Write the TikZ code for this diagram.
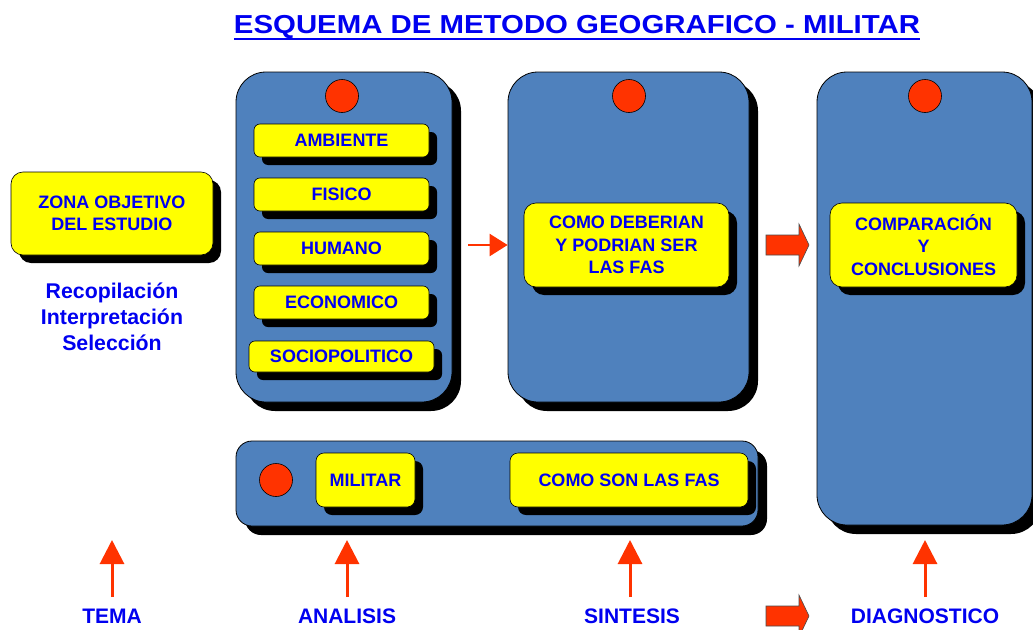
\documentclass[tikz,border=0pt]{standalone}
\usepackage{fontspec}
\setmainfont{Liberation Sans}
\usetikzlibrary{shadows,arrows.meta,calc}
\definecolor{boxblue}{RGB}{79,129,189}
\definecolor{txtblue}{RGB}{0,0,240}
\definecolor{dotred}{RGB}{255,51,0}
\definecolor{hiyel}{RGB}{255,255,0}
\begin{document}
\begin{tikzpicture}[x=1pt,y=-1pt,
  panel/.style={draw=black, line width=0.8pt, fill=boxblue, rounded corners=30pt, inner sep=0pt,
     drop shadow={shadow xshift=9pt, shadow yshift=-9pt, opacity=1, fill=black}},
  ybox/.style={draw=black, line width=0.6pt, fill=hiyel, rounded corners=6pt, inner sep=0pt,
     text=txtblue, align=center, font=\bfseries\fontsize{18}{22.5}\selectfont,
     drop shadow={shadow xshift=8pt, shadow yshift=-8pt, opacity=1, fill=black}},
  dot/.style={circle, draw=black, line width=0.6pt, fill=dotred, minimum size=33pt, inner sep=0pt},
  lbl/.style={text=txtblue, font=\bfseries\fontsize{21}{25}\selectfont, inner sep=2pt},
  uparrow/.style={draw=dotred, line width=3pt, -{Triangle[width=24pt,length=24pt]}},
  thinarrow/.style={draw=dotred, line width=2.5pt, -{Triangle[width=22pt,length=18pt]}},
  blockarrow/.style={draw=black!70, line width=0.6pt, fill=dotred}
]
\useasboundingbox[fill=white] (0,0) rectangle (1033,629);

% title
\node[text=txtblue, font=\bfseries\fontsize{26}{30}\selectfont, inner sep=0pt] (title) at (577,27)
  {\scalebox{1.13}[1]{ESQUEMA DE METODO GEOGRAFICO - MILITAR}};
\draw[txtblue, line width=2pt] ([yshift=-5pt]title.base west) -- ([yshift=-5pt]title.base east);

% panels
\node[panel, minimum width=216pt, minimum height=330pt] (A) at (344,237) {};
\node[panel, minimum width=241pt, minimum height=330pt] (B) at (628.5,237) {};
\node[panel, minimum width=215pt, minimum height=453pt] (C) at (924.5,298.5) {};
\node[panel, rounded corners=16pt, minimum width=522pt, minimum height=85pt] (D) at (497,483.5) {};

% dots
\node[dot] (dA) at (342,96) {};
\node[dot] (dB) at (629,96) {};
\node[dot] (dC) at (925,96) {};
\node[dot] (dD) at (276,480) {};

% yellow boxes in A
\node[ybox, minimum width=175pt, minimum height=33pt] (amb) at (341.5,140.5) {AMBIENTE};
\node[ybox, minimum width=175pt, minimum height=33pt] (fis) at (341.5,194.5) {FISICO};
\node[ybox, minimum width=175pt, minimum height=33pt] (hum) at (341.5,248.5) {HUMANO};
\node[ybox, minimum width=175pt, minimum height=33pt] (eco) at (341.5,302.5) {ECONOMICO};
\node[ybox, minimum width=185pt, minimum height=31pt] (soc) at (341.5,356.5) {SOCIOPOLITICO};

% other yellow boxes
\node[ybox, rounded corners=12pt, minimum width=205pt, minimum height=84pt] (deb) at (626.5,245)
  {\raisebox{-3pt}{\parbox{200pt}{\centering COMO DEBERIAN\\Y PODRIAN SER\\LAS FAS}}};
\node[ybox, rounded corners=12pt, minimum width=187pt, minimum height=84pt] (comp) at (923.5,245)
  {COMPARACIÓN\\Y\\CONCLUSIONES};
\node[ybox, rounded corners=12pt, minimum width=202pt, minimum height=83pt] (zona) at (112,213.5)
  {ZONA OBJETIVO\\DEL ESTUDIO};
\node[ybox, rounded corners=8pt, minimum width=99pt, minimum height=54pt] (mil) at (365.5,480) {MILITAR};
\node[ybox, rounded corners=8pt, minimum width=238pt, minimum height=54pt] (son) at (629,480) {COMO SON LAS FAS};

% left text
\node[text=txtblue, align=center, font=\bfseries\fontsize{21.3}{26}\selectfont] (rec) at (112,317)
  {Recopilación\\Interpretación\\Selección};

% arrow A -> B
\draw[thinarrow] ([xshift=16pt]A.east |- deb.center) -- (B.west |- deb.center);

% block arrows
\coordinate (ba1) at (787,245);
\coordinate (ba2) at (787,616);
\foreach \c in {ba1,ba2}{
  \draw[blockarrow] ($(\c)+(-21,-10)$) -- ($(\c)+(12,-10)$) -- ($(\c)+(12,-21)$) -- ($(\c)+(22,0)$)
    -- ($(\c)+(12,21)$) -- ($(\c)+(12,10)$) -- ($(\c)+(-21,10)$) -- cycle;
}

% bottom labels
\node[lbl] (tema) at (112,616) {TEMA};
\node[lbl] (ana) at (347,616) {ANALISIS};
\node[lbl] (sin) at (632,616) {SINTESIS};
\node[lbl] (diag) at (925,616) {DIAGNOSTICO};

\foreach \n/\x in {tema/112,ana/347,sin/630,diag/925}{
  \coordinate (\n top) at (\x,540);
  \draw[uparrow] (\x,597) -- (\n top);
}
\end{tikzpicture}
\end{document}
